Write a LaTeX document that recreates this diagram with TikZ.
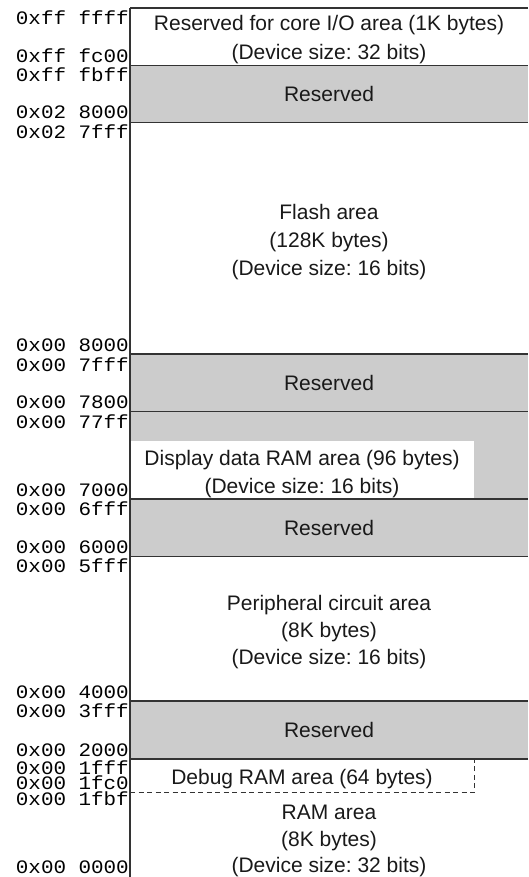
\documentclass[tikz,border=0pt]{standalone}
\usepackage{fontspec}
\setmainfont{Liberation Sans}
\newfontfamily\addrfont{Liberation Mono}[FakeStretch=1.1]
\usetikzlibrary{calc}
\frenchspacing

\tikzset{
  addr/.style={anchor=base east,inner sep=0pt,text height=11.5pt,text depth=0pt,
    font=\addrfont\fontsize{19}{22}\selectfont},
  areatext/.style={anchor=base,inner sep=0pt,text=black!90,font=\fontsize{21}{25}\selectfont},
  resv/.style={fill=black!20},
  border/.style={line width=1.2pt,draw=black!80},
}

\begin{document}
\begin{tikzpicture}[x=1pt,y=-1pt]
 \useasboundingbox (0,0) rectangle (528,877);
 % reserved (gray) areas
 \fill[resv] (130,65.7) rectangle (528,122.7);
 \fill[resv] (130,354) rectangle (528,411.7);
 \fill[resv] (130,411.7) rectangle (528,499);
 \fill[white] (130,440.5) rectangle (474,499); % display data RAM
 \fill[resv] (130,499) rectangle (528,556.7);
 \fill[resv] (130,701) rectangle (528,759);
 % area borders
 \foreach \y in {8,65.7,122.7,354,411.7,499,556.7,701,759}
   \draw[border] (130,\y) -- (528,\y);
 \draw[border,line width=0.9pt,dash pattern=on 5pt off 3.5pt] (130,792.7) -- (474,792.7) -- (474,759); % debug RAM
 \draw[border,line width=1.4pt] (130,8) -- (130,877); % address axis

 % addresses
 \foreach \a/\y [count=\i] in {0xff ffff/25,0xff fc00/63,0xff fbff/82,0x02 8000/119,
   0x02 7fff/139,0x00 8000/351,0x00 7fff/371,0x00 7800/408,0x00 77ff/428,
   0x00 7000/496,0x00 6fff/515,0x00 6000/553,0x00 5fff/572,0x00 4000/698,
   0x00 3fff/717,0x00 2000/756,0x00 1fff/774,0x00 1fc0/789,0x00 1fbf/805,
   0x00 0000/873}
   \node[addr] (addr\i) at (129,\y) {\a};

 % area names
 \node[areatext] (core1) at (329,30.7) {Reserved for core I/O area (1K bytes)};
 \node[areatext] (core2) at (329,59.3) {(Device size: 32 bits)};
 \node[areatext] (resv1) at (329,101.5) {Reserved};
 \foreach \t [count=\i] in {Flash area,(128K bytes),(Device size: 16 bits)}
   \node[areatext] (flash\i) at (329,{220+27.5*(\i-1)}) {\t};
 \node[areatext] (resv2) at (329,390.5) {Reserved};
 \node[areatext] (disp1) at (302,465) {Display data RAM area (96 bytes)};
 \node[areatext] (disp2) at (302,493) {(Device size: 16 bits)};
 \node[areatext] (resv3) at (329,535.5) {Reserved};
 \foreach \t [count=\i] in {Peripheral circuit area,(8K bytes),(Device size: 16 bits)}
   \node[areatext] (peri\i) at (329,{610.5+27*(\i-1)}) {\t};
 \node[areatext] (resv4) at (329,737.5) {Reserved};
 \node[areatext] (debug) at (302,784) {Debug RAM area (64 bytes)};
 \foreach \t [count=\i] in {RAM area,(8K bytes),(Device size: 32 bits)}
   \node[areatext] (ram\i) at (329,{819.5+26.5*(\i-1)}) {\t};
\end{tikzpicture}
\end{document}
